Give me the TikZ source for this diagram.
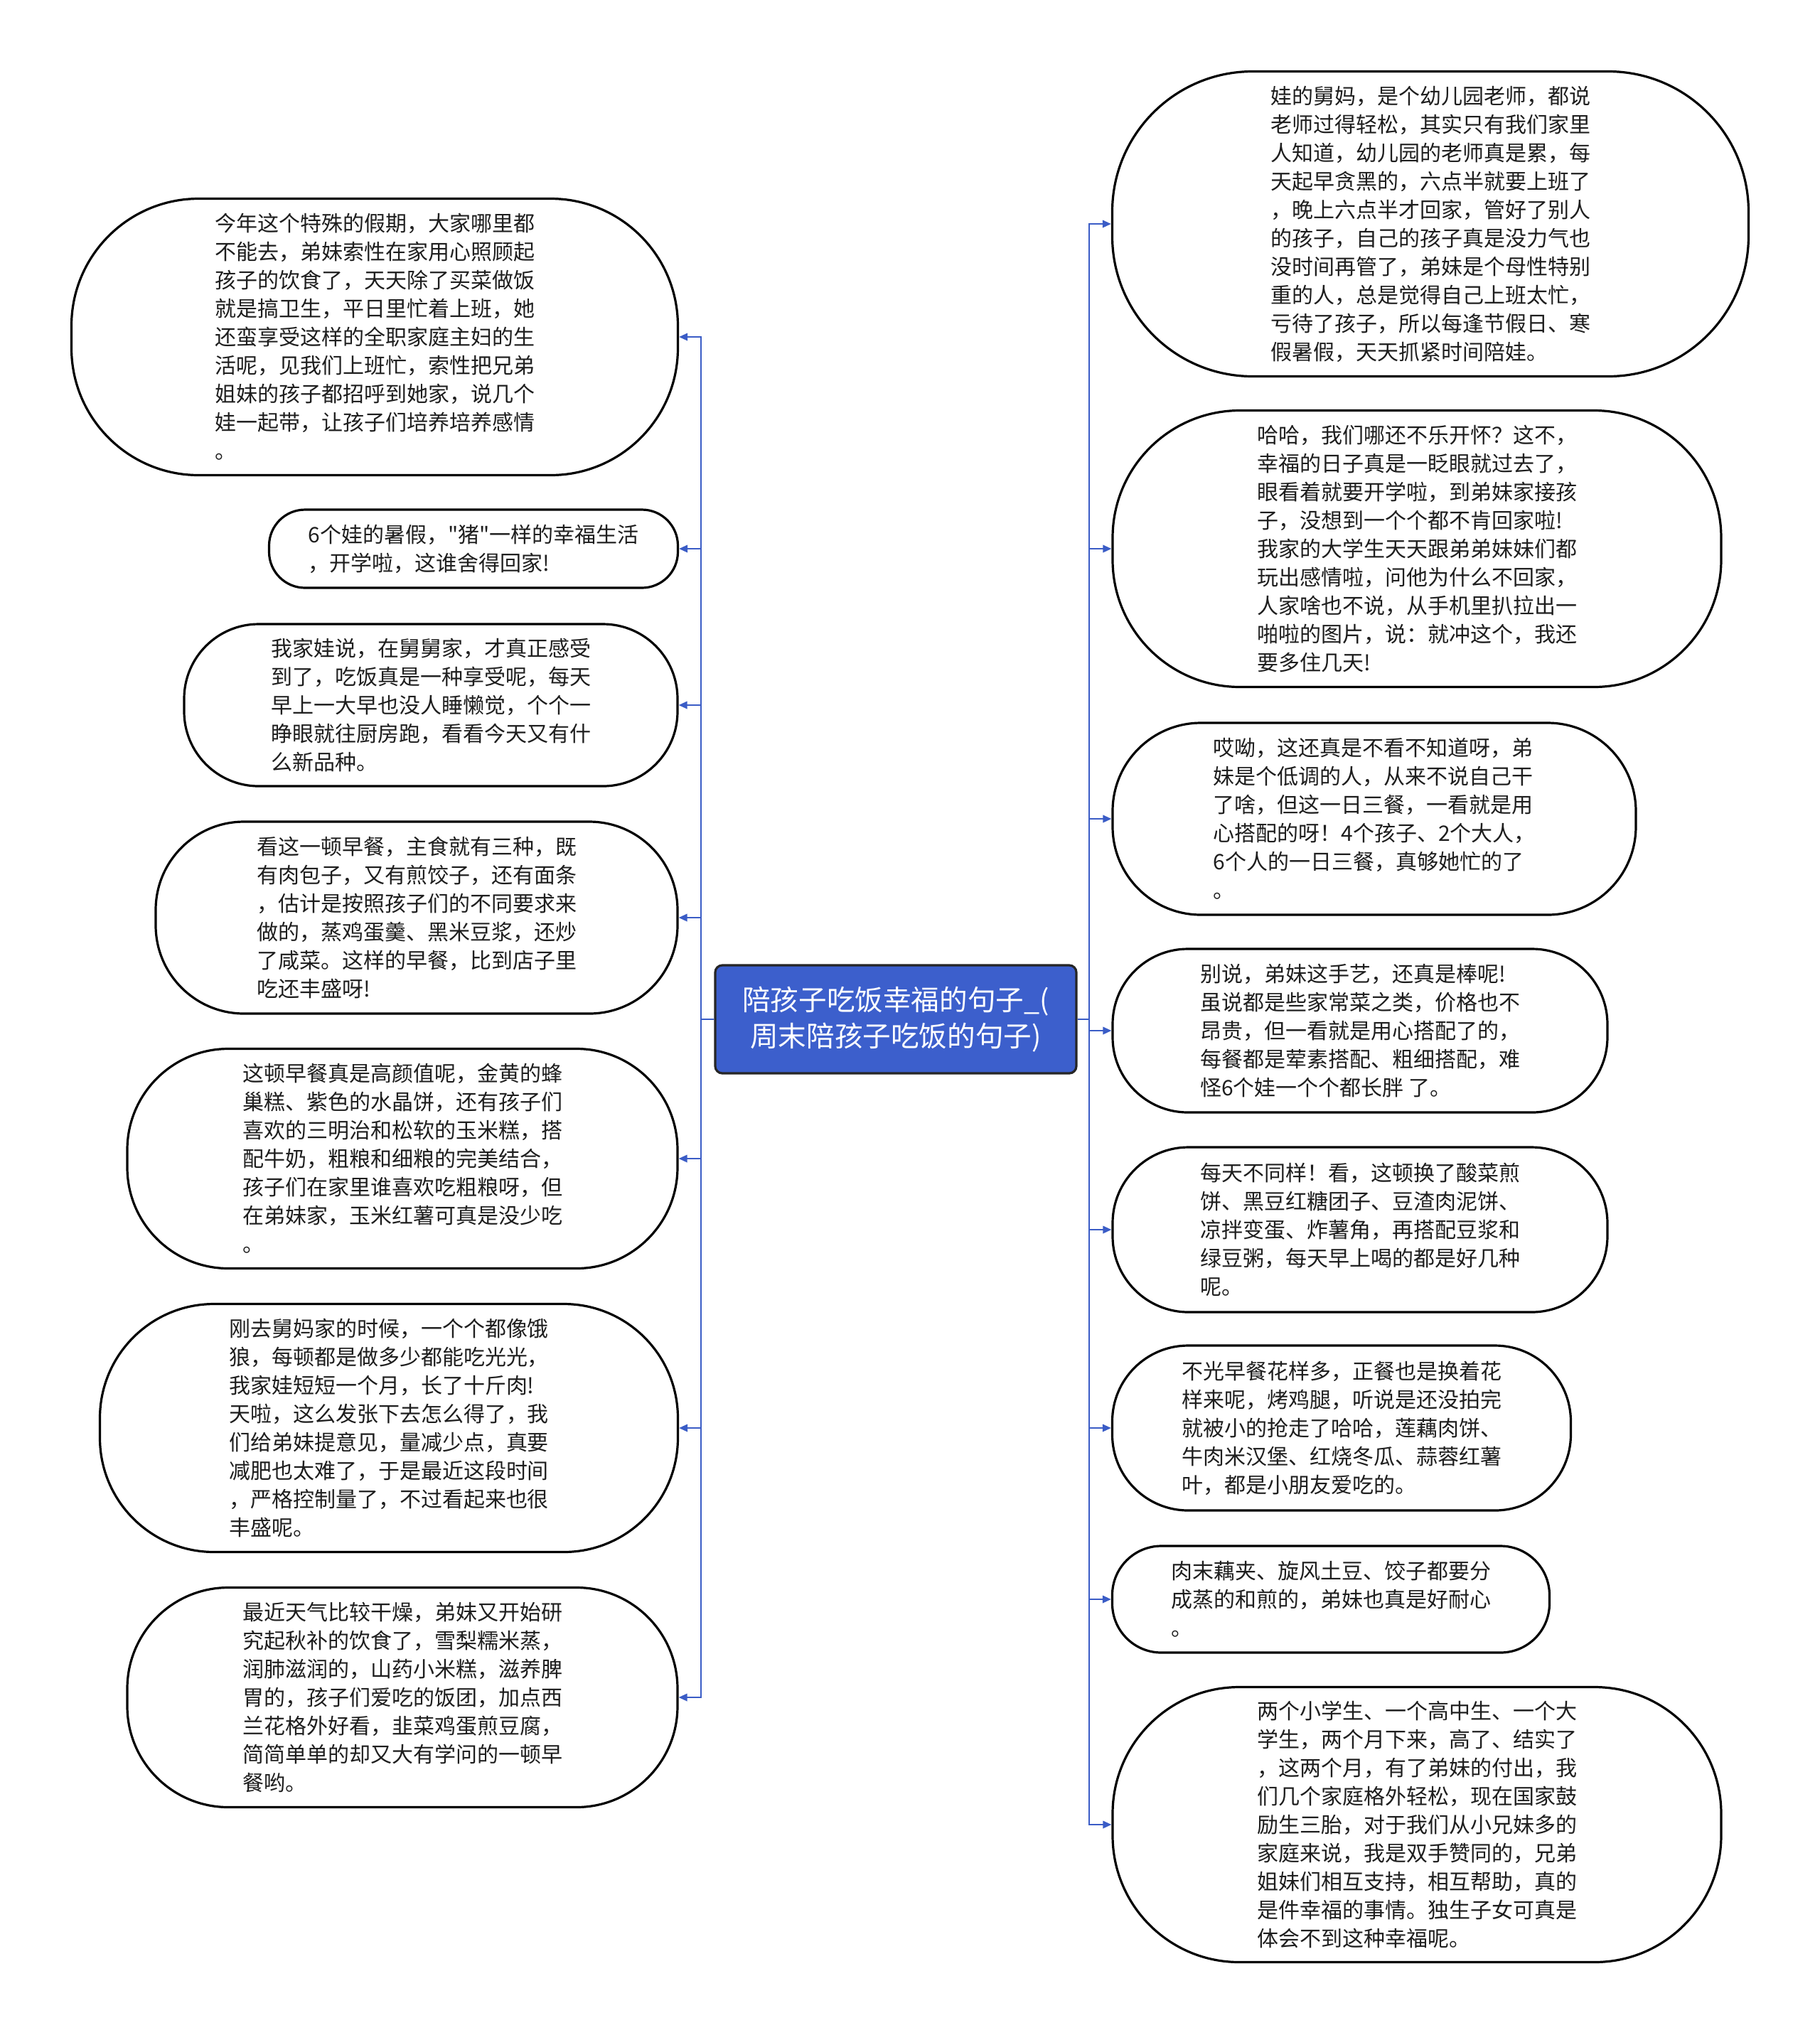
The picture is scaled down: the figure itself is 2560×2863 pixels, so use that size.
\documentclass[tikz,border=0pt]{standalone}
\usepackage{fontspec}
\setmainfont{Noto Sans CJK SC}[Ligatures=TeXOff]
\usetikzlibrary{arrows.meta}
\definecolor{connblue}{HTML}{3A5CC6}
\definecolor{rootblue}{HTML}{3C5FCC}
\definecolor{txtgray}{HTML}{1E1E1E}
\tikzset{
  bub/.style={draw=black, line width=0.8pt, fill=white, inner sep=0pt, align=left,
    text=txtgray, font=\fontsize{7.5pt}{10pt}\selectfont},
  rootbox/.style={draw=black!85, line width=0.8pt, fill=rootblue, rounded corners=2.5pt,
    inner sep=0pt, align=center, text=white, font=\fontsize{9.9pt}{12.8pt}\selectfont},
  conn/.style={draw=connblue, line width=0.55pt, -{Triangle[length=3pt,width=2.6pt]}},
}
\newcommand\bubble[6]{%
  \pgfmathsetmacro\rcval{0.115*#5}%
  \node[bub, minimum width=#4*0.25pt, minimum height=#5*0.25pt, rounded corners=\rcval pt] (#1) at (#2,#3) {#6\hspace*{3pt}};}
\begin{document}
\begin{tikzpicture}[x=0.25pt,y=-0.25pt]
\useasboundingbox (0,0) rectangle (2560,2863);
\fill[white] (0,0) rectangle (2560,2863);

\node[rootbox, minimum width=508*0.25pt, minimum height=152*0.25pt] (root) at (1260,1434) {陪孩子吃饭幸福的句子\_(\\周末陪孩子吃饭的句子)};

% left bubbles
\bubble{L1}{527}{474}{853}{389}{今年这个特殊的假期，大家哪里都\\不能去，弟妹索性在家用心照顾起\\孩子的饮食了，天天除了买菜做饭\\就是搞卫生，平日里忙着上班，她\\还蛮享受这样的全职家庭主妇的生\\活呢，见我们上班忙，索性把兄弟\\姐妹的孩子都招呼到她家，说几个\\娃一起带，让孩子们培养培养感情\\。}
\bubble{L2}{666}{772}{575}{110}{6个娃的暑假，"猪"一样的幸福生活\\，开学啦，这谁舍得回家!}
\bubble{L3}{606}{992}{694}{228}{我家娃说，在舅舅家，才真正感受\\到了，吃饭真是一种享受呢，每天\\早上一大早也没人睡懒觉，个个一\\睁眼就往厨房跑，看看今天又有什\\么新品种。}
\bubble{L4}{586}{1291}{734}{270}{看这一顿早餐，主食就有三种，既\\有肉包子，又有煎饺子，还有面条\\，估计是按照孩子们的不同要求来\\做的，蒸鸡蛋羹、黑米豆浆，还炒\\了咸菜。这样的早餐，比到店子里\\吃还丰盛呀!}
\bubble{L5}{566}{1630}{774}{309}{这顿早餐真是高颜值呢，金黄的蜂\\巢糕、紫色的水晶饼，还有孩子们\\喜欢的三明治和松软的玉米糕，搭\\配牛奶，粗粮和细粮的完美结合，\\孩子们在家里谁喜欢吃粗粮呀，但\\在弟妹家，玉米红薯可真是没少吃\\。}
\bubble{L6}{547}{2009}{813}{349}{刚去舅妈家的时候，一个个都像饿\\狼，每顿都是做多少都能吃光光，\\我家娃短短一个月，长了十斤肉!\\天啦，这么发张下去怎么得了，我\\们给弟妹提意见，量减少点，真要\\减肥也太难了，于是最近这段时间\\，严格控制量了，不过看起来也很\\丰盛呢。}
\bubble{L7}{566}{2388}{774}{309}{最近天气比较干燥，弟妹又开始研\\究起秋补的饮食了，雪梨糯米蒸，\\润肺滋润的，山药小米糕，滋养脾\\胃的，孩子们爱吃的饭团，加点西\\兰花格外好看，韭菜鸡蛋煎豆腐，\\简简单单的却又大有学问的一顿早\\餐哟。}

% right bubbles
\bubble{R1}{2012}{315}{895}{429}{娃的舅妈，是个幼儿园老师，都说\\老师过得轻松，其实只有我们家里\\人知道，幼儿园的老师真是累，每\\天起早贪黑的，六点半就要上班了\\，晚上六点半才回家，管好了别人\\的孩子，自己的孩子真是没力气也\\没时间再管了，弟妹是个母性特别\\重的人，总是觉得自己上班太忙，\\亏待了孩子，所以每逢节假日、寒\\假暑假，天天抓紧时间陪娃。}
\bubble{R2}{1993}{772}{856}{389}{哈哈，我们哪还不乐开怀？这不，\\幸福的日子真是一眨眼就过去了，\\眼看着就要开学啦，到弟妹家接孩\\子，没想到一个个都不肯回家啦!\\我家的大学生天天跟弟弟妹妹们都\\玩出感情啦，问他为什么不回家，\\人家啥也不说，从手机里扒拉出一\\啪啦的图片，说：就冲这个，我还\\要多住几天!}
\bubble{R3}{1933}{1152}{736}{270}{哎呦，这还真是不看不知道呀，弟\\妹是个低调的人，从来不说自己干\\了啥，但这一日三餐，一看就是用\\心搭配的呀！4个孩子、2个大人，\\6个人的一日三餐，真够她忙的了\\。}
\bubble{R4}{1913}{1450}{696}{230}{别说，弟妹这手艺，还真是棒呢!\\虽说都是些家常菜之类，价格也不\\昂贵，但一看就是用心搭配了的，\\每餐都是荤素搭配、粗细搭配，难\\怪6个娃一个个都长胖 了。}
\bubble{R5}{1913}{1730}{696}{232}{每天不同样！看，这顿换了酸菜煎\\饼、黑豆红糖团子、豆渣肉泥饼、\\凉拌变蛋、炸薯角，再搭配豆浆和\\绿豆粥，每天早上喝的都是好几种\\呢。}
\bubble{R6}{1887}{2009}{645}{232}{不光早餐花样多，正餐也是换着花\\样来呢，烤鸡腿，听说是还没拍完\\就被小的抢走了哈哈，莲藕肉饼、\\牛肉米汉堡、红烧冬瓜、蒜蓉红薯\\叶，都是小朋友爱吃的。}
\bubble{R7}{1872}{2250}{615}{150}{肉末藕夹、旋风土豆、饺子都要分\\成蒸的和煎的，弟妹也真是好耐心\\。}
\bubble{R8}{1993}{2567}{856}{387}{两个小学生、一个高中生、一个大\\学生，两个月下来，高了、结实了\\，这两个月，有了弟妹的付出，我\\们几个家庭格外轻松，现在国家鼓\\励生三胎，对于我们从小兄妹多的\\家庭来说，我是双手赞同的，兄弟\\姐妹们相互支持，相互帮助，真的\\是件幸福的事情。独生子女可真是\\体会不到这种幸福呢。}

% trunks
\coordinate (lj) at (986,1434);
\coordinate (rj) at (1532,1434);
\foreach \n in {L1,L2,L3,L4,L5,L6,L7}{
  \draw[conn] (root.west) -- (lj) |- (\n.east);
}
\foreach \n in {R1,R2,R3,R4,R5,R6,R7,R8}{
  \draw[conn] (root.east) -- (rj) |- (\n.west);
}
\end{tikzpicture}
\end{document}
